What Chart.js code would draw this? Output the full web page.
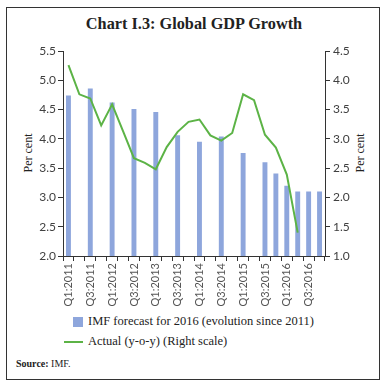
<!DOCTYPE html>
<html>
<head>
<meta charset="utf-8">
<script src="https://cdn.jsdelivr.net/npm/chart.js@4"></script>
<style>
  body { margin: 0; background: #fff; width: 388px; height: 386px; position: relative; overflow: hidden; }
  .frame { position: absolute; left: 6px; top: 7px; width: 374px; height: 373px; border: 1px solid #333; box-sizing: border-box; }
  .title { position: absolute; left: 0; top: 14px; width: 388px; text-align: center; font: bold 16.3px "Liberation Serif", serif; color: #222; }
  .ytitle { position: absolute; font: 12px "Liberation Serif", serif; color: #222; transform: translate(-50%, -50%) rotate(-90deg); white-space: nowrap; }
  .chartbox { position: absolute; left: 6px; top: 40px; width: 375px; height: 270px; }
  .legend { position: absolute; font: 12.5px "Liberation Serif", serif; color: #222; white-space: nowrap; }
  .swatch { position: absolute; }
  .source { position: absolute; left: 16px; top: 358px; font: 10px "Liberation Serif", serif; color: #222; }
</style>
</head>
<body>
<div class="frame"></div>
<div class="title">Chart I.3: Global GDP Growth</div>
<div class="ytitle" style="left:28px; top:153px;">Per cent</div>
<div class="ytitle" style="left:360px; top:153px;">Per cent</div>
<div class="chartbox"><canvas id="gdpChart"></canvas></div>
<div class="swatch" style="left:73px; top:317px; width:10px; height:10px; background:#8ea6dc;"></div>
<div class="legend" style="left:88px; top:314px;">IMF forecast for 2016 (evolution since 2011)</div>
<div class="swatch" style="left:64px; top:341px; width:19px; height:2px; background:#5cb346;"></div>
<div class="legend" style="left:88px; top:334px;">Actual (y-o-y) (Right scale)</div>
<div class="source"><b>Source:</b> IMF.</div>

<script>
// Quarters Q1:2011 .. Q4:2016
const quarters = ['Q1:2011','Q2:2011','Q3:2011','Q4:2011','Q1:2012','Q2:2012','Q3:2012','Q4:2012',
  'Q1:2013','Q2:2013','Q3:2013','Q4:2013','Q1:2014','Q2:2014','Q3:2014','Q4:2014',
  'Q1:2015','Q2:2015','Q3:2015','Q4:2015','Q1:2016','Q2:2016','Q3:2016','Q4:2016'];

// IMF forecast for 2016 (left scale)
const imfForecast = [4.74, null, 4.86, null, 4.62, null, 4.51, null, 4.46, null, 4.06, null,
  3.95, null, 4.04, null, 3.76, null, 3.60, 3.41, 3.20, 3.10, 3.10, 3.10];

// Actual global GDP growth y-o-y (right scale)
const actualGrowth = [4.26, 3.76, 3.69, 3.23, 3.59, 3.13, 2.67, 2.59, 2.48, 2.86, 3.12, 3.29,
  3.33, 3.06, 2.97, 3.10, 3.76, 3.66, 3.07, 2.85, 2.39, 1.40, null, null];

const leftTicks = [2.0, 2.5, 3.0, 3.5, 4.0, 4.5, 5.0, 5.5];
const rightTicks = [1.0, 1.5, 2.0, 2.5, 3.0, 3.5, 4.0, 4.5];

const tickFont = { family: 'Lato', size: 12 };
const tickColor = '#404040';

const ctx = document.getElementById('gdpChart').getContext('2d');
new Chart(ctx, {
  type: 'bar',
  data: {
    labels: quarters,
    datasets: [{
      type: 'line',
      label: 'Actual (y-o-y) (Right scale)',
      data: actualGrowth,
      yAxisID: 'y1',
      borderColor: '#5cb346',
      borderWidth: 2,
      pointRadius: 0,
      tension: 0,
      order: 0
    }, {
      label: 'IMF forecast for 2016 (evolution since 2011)',
      data: imfForecast,
      yAxisID: 'y',
      backgroundColor: '#8ea6dc',
      barPercentage: 0.45,
      categoryPercentage: 1.0,
      order: 1
    }]
  },
  options: {
    responsive: true,
    maintainAspectRatio: false,
    animation: false,
    layout: { padding: { left: 0, right: 0, top: 11, bottom: 0 } },
    plugins: {
      legend: { display: false },
      tooltip: { enabled: false }
    },
    scales: {
      x: {
        grid: { display: true, drawOnChartArea: false, offset: true, tickLength: 5, color: '#333' },
        border: { color: '#333' },
        ticks: {
          autoSkip: false,
          maxRotation: 90,
          minRotation: 90,
          padding: 2,
          font: { family: 'Lato', size: 11 },
          color: '#555',
          callback: function(value, index) {
            return index % 2 === 0 ? quarters[index] : '';
          }
        },
        afterFit: function(scale) { scale.height = 54; }
      },
      y: {
        position: 'left',
        min: 2.0,
        max: 5.5,
        afterBuildTicks: function(scale) { scale.ticks = leftTicks.map(v => ({ value: v })); },
        grid: { display: true, drawOnChartArea: false, tickLength: 5, color: '#333' },
        border: { color: '#333' },
        ticks: {
          padding: 2,
          font: tickFont,
          color: tickColor,
          callback: function(value) { return value.toFixed(1); }
        },
        afterFit: function(scale) { scale.width = 57; }
      },
      y1: {
        position: 'right',
        min: 1.0,
        max: 4.5,
        afterBuildTicks: function(scale) { scale.ticks = rightTicks.map(v => ({ value: v })); },
        grid: { display: true, drawOnChartArea: false, tickLength: 5, color: '#333' },
        border: { color: '#333' },
        ticks: {
          padding: 3,
          font: tickFont,
          color: tickColor,
          callback: function(value) { return value.toFixed(1); }
        },
        afterFit: function(scale) { scale.width = 56; }
      }
    }
  }
});
</script>
</body>
</html>
